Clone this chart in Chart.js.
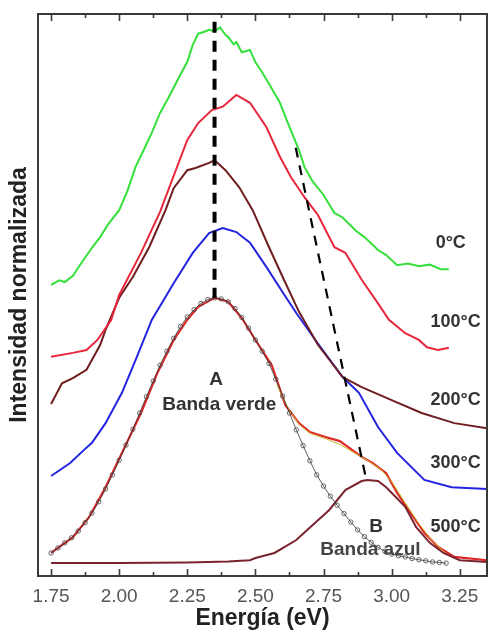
<!DOCTYPE html>
<html>
<head>
<meta charset="utf-8">
<script src="https://cdn.jsdelivr.net/npm/chart.js@4.4.0/dist/chart.umd.min.js"></script>
<style>
  html, body { margin: 0; padding: 0; background: #fff; }
</style>
</head>
<body>
<canvas id="plChart" width="488" height="632"></canvas>
<script>
// energy axis ticks (eV)
const tickValues = [1.75, 2.00, 2.25, 2.50, 2.75, 3.00, 3.25];
const minorTicks = [1.875, 2.125, 2.375, 2.625, 2.875, 3.125];

// 0ºC spectrum
const e0 = [1.75,1.78,1.80,1.83,1.86,1.90,1.93,1.96,2.00,2.03,2.06,2.09,2.12,2.15,2.18,2.22,2.25,2.27,2.29,2.31,2.33,2.35,2.37,2.39,2.40,2.42,2.43,2.45,2.48,2.50,2.52,2.55,2.59,2.62,2.66,2.68,2.71,2.75,2.79,2.82,2.84,2.87,2.90,2.95,2.98,3.02,3.06,3.10,3.14,3.18,3.21];
const i0 = [51.8,52.6,52.3,53.4,55.6,58.4,60.3,62.6,65.1,68.5,72.8,75.8,78.9,82.4,85.0,88.8,91.5,94.5,96.5,96.8,97.2,96.9,97.6,96.3,95.9,94.6,95.0,93.2,93.6,91.4,90.0,87.6,84.2,80.5,75.8,72.8,70.2,67.8,64.6,63.8,62.8,61.4,60.3,58.0,57.1,55.3,55.6,55.1,55.4,54.6,54.6];

// 100ºC spectrum
const e1 = [1.75,1.83,1.88,1.92,1.97,2.00,2.08,2.15,2.25,2.29,2.34,2.38,2.43,2.48,2.54,2.59,2.63,2.68,2.73,2.79,2.83,2.89,2.95,2.99,3.05,3.10,3.13,3.17,3.21];
const i1 = [39.0,39.7,40.2,42.0,45.5,50.0,57.5,64.8,77.6,80.6,82.9,83.5,85.6,84.2,79.9,74.6,71.0,67.4,64.2,58.5,57.5,52.7,48.5,45.6,43.2,42.0,40.7,40.2,40.6];

// 200ºC spectrum
const e2 = [1.75,1.79,1.83,1.88,1.93,1.95,2.00,2.05,2.11,2.17,2.20,2.25,2.28,2.33,2.35,2.39,2.44,2.49,2.55,2.60,2.66,2.73,2.82,2.89,3.00,3.11,3.23,3.35];
const i2 = [30.6,34.3,35.2,36.7,41.1,43.8,49.5,53.2,58.5,65.1,69.0,72.2,72.6,73.5,74.0,72.2,69.2,65.1,58.5,53.2,47.0,41.1,35.4,33.6,31.3,29.0,27.2,26.3];

// 300ºC spectrum
const e3 = [1.75,1.82,1.87,1.90,1.95,2.01,2.06,2.12,2.20,2.27,2.33,2.38,2.43,2.48,2.54,2.60,2.65,2.72,2.82,2.88,2.95,3.02,3.12,3.22,3.35];
const i3 = [17.8,20.1,22.4,23.7,27.2,32.6,38.4,45.6,52.1,57.5,61.0,61.9,61.2,59.3,55.0,50.5,46.8,42.0,35.4,32.6,26.5,21.9,17.1,15.8,15.5];

// 500ºC spectrum (measured)
const e5 = [1.75,1.83,1.89,1.95,2.01,2.08,2.14,2.20,2.25,2.29,2.35,2.40,2.45,2.50,2.56,2.61,2.66,2.70,2.76,2.81,2.89,2.93,2.98,3.02,3.07,3.12,3.17,3.23,3.35];
const i5 = [4.1,6.9,10.5,15.8,21.9,29.0,36.1,42.0,45.6,47.9,49.5,48.8,45.9,42.0,37.5,30.4,27.2,25.6,24.7,24.0,21.2,20.1,18.3,14.8,11.2,7.7,5.2,3.4,2.8];

// 500ºC fit total
const eF = [2.58,2.62,2.66,2.70,2.76,2.81,2.86,2.91,2.96,3.00,3.05,3.10,3.15,3.20];
const iF = [34.0,29.8,27.0,25.4,24.4,23.4,22.0,20.6,19.0,16.8,13.0,9.3,6.2,4.0];

// Band A (green) gaussian component
const eA = [1.750,1.775,1.800,1.825,1.850,1.875,1.900,1.925,1.950,1.975,2.000,2.025,2.050,2.075,2.100,2.125,2.150,2.175,2.200,2.225,2.250,2.275,2.300,2.325,2.350,2.375,2.400,2.425,2.450,2.475,2.500,2.525,2.550,2.575,2.600,2.625,2.650,2.675,2.700,2.725,2.750,2.775,2.800,2.825,2.850,2.875,2.900,2.925,2.950,2.975,3.000,3.025,3.050,3.075,3.100,3.125,3.150,3.175,3.200];
const iA = [4.1,5.0,5.9,6.8,8.0,9.5,11.2,13.2,15.5,18.0,20.6,23.3,26.1,29.0,31.9,34.7,37.5,40.0,42.3,44.4,46.1,47.4,48.5,49.2,49.5,49.3,48.8,47.6,46.0,44.1,42.0,40.0,37.8,35.0,32.0,29.0,26.0,23.2,20.5,18.0,16.0,14.2,12.6,11.1,9.6,8.2,7.0,6.0,5.1,4.4,3.9,3.6,3.4,3.1,2.9,2.7,2.5,2.4,2.3];

// Band B (blue) gaussian component
const eB = [1.75,2.00,2.25,2.40,2.48,2.50,2.57,2.65,2.69,2.77,2.83,2.89,2.91,2.95,2.98,3.05,3.09,3.14,3.19,3.25,3.35];
const iB = [2.3,2.3,2.4,2.6,2.8,3.2,4.1,6.4,8.2,11.7,15.3,16.9,17.1,16.9,15.8,12.3,8.7,5.9,4.1,2.8,2.5];

// peak position guides
const guideAx = [2.35, 2.35];
const guideAy = [98.6, 49.5];
const guideBx = [2.648, 2.907];
const guideBy = [76.2, 17.1];

const pts = (xs, ys) => xs.map((x, i) => ({ x: x, y: ys[i] }));

const line = (label, xs, ys, color, width, order, extra) => Object.assign({
  label: label,
  data: pts(xs, ys),
  borderColor: color,
  backgroundColor: color,
  borderWidth: width,
  pointRadius: 0,
  tension: 0,
  fill: false,
  order: order
}, extra || {});

const labelsPlugin = {
  id: 'plLabels',
  afterDatasetsDraw(chart) {
    const { ctx, chartArea: a, scales: { x, y } } = chart;
    ctx.save();
    // frame
    ctx.strokeStyle = '#3a3a3a';
    ctx.lineWidth = 2;
    ctx.strokeRect(a.left, a.top, a.right - a.left, a.bottom - a.top);
    // inward ticks top and bottom
    ctx.lineWidth = 1.6;
    const tick = (v, len) => {
      const px = Math.round(x.getPixelForValue(v)) + 0.5;
      ctx.beginPath();
      ctx.moveTo(px, a.bottom); ctx.lineTo(px, a.bottom - len);
      ctx.moveTo(px, a.top); ctx.lineTo(px, a.top + len);
      ctx.stroke();
    };
    tickValues.forEach(v => tick(v, 7));
    minorTicks.forEach(v => tick(v, 4));
    // annotations
    ctx.fillStyle = '#333';
    ctx.textAlign = 'center';
    ctx.textBaseline = 'middle';
    ctx.font = 'bold 18px "Liberation Sans", Arial, sans-serif';
    const txt = (s, ex, iy) => ctx.fillText(s, x.getPixelForValue(ex), y.getPixelForValue(iy));
    txt('0°C', 3.217, 59.3);
    txt('100°C', 3.235, 45.2);
    txt('200°C', 3.235, 31.3);
    txt('300°C', 3.235, 20.1);
    txt('500°C', 3.235, 8.7);
    ctx.font = 'bold 19px "Liberation Sans", Arial, sans-serif';
    txt('A', 2.356, 34.9);
    txt('Banda verde', 2.367, 30.4);
    txt('B', 2.943, 8.7);
    ctx.fillStyle = '#444';
    txt('Banda azul', 2.922, 4.6);
    ctx.restore();
  }
};

new Chart(document.getElementById('plChart'), {
  type: 'line',
  data: {
    datasets: [
      line('0°C', e0, i0, '#35e03a', 2, 5),
      line('100°C', e1, i1, '#e8263c', 2, 5),
      line('200°C', e2, i2, '#6e1e20', 2, 5),
      line('300°C', e3, i3, '#2424e0', 2, 5),
      line('500°C', e5, i5, '#e02828', 2.2, 8),
      line('ajuste', eF, iF, '#c9b52a', 1, 7),
      line('Banda B', eB, iB, '#7a2430', 2, 6),
      line('Banda A', eA, iA, '#333', 0.8, 4, {
        pointRadius: 2.2,
        pointStyle: 'circle',
        pointBorderColor: '#444',
        pointBackgroundColor: 'rgba(255,255,255,0)',
        pointBorderWidth: 0.8
      }),
      line('guia A', guideAx, guideAy, '#000', 4, 1, { borderDash: [11, 8] }),
      line('guia B', guideBx, guideBy, '#000', 2.2, 1, { borderDash: [10, 8] })
    ]
  },
  options: {
    responsive: false,
    animation: false,
    layout: { autoPadding: false, padding: { top: 14, right: 1, left: 0, bottom: 0 } },
    plugins: {
      legend: { display: false },
      tooltip: { enabled: false }
    },
    scales: {
      x: {
        type: 'linear',
        min: 1.702,
        max: 3.35,
        grid: { display: false },
        border: { display: false },
        afterBuildTicks: s => { s.ticks = tickValues.map(v => ({ value: v })); },
        afterFit: s => { s.height = 56; s.paddingLeft = 0; s.paddingRight = 0; },
        ticks: {
          padding: 1,
          maxRotation: 0,
          color: '#555',
          font: { family: '"Liberation Sans", Arial, sans-serif', size: 19 },
          callback: v => Number(v).toFixed(2)
        },
        title: {
          display: true,
          text: 'Energía (eV)',
          color: '#222',
          padding: { top: 0, bottom: 0 },
          font: { family: '"Liberation Sans", Arial, sans-serif', size: 23, weight: 'bold' }
        }
      },
      y: {
        type: 'linear',
        min: 0,
        max: 100,
        grid: { display: false },
        border: { display: false },
        ticks: { display: false },
        afterFit: s => { s.width = 38; s.paddingTop = 0; s.paddingBottom = 0; },
        title: {
          display: true,
          text: 'Intensidad normalizada',
          color: '#222',
          padding: { top: 6, bottom: 0 },
          font: { family: '"Liberation Sans", Arial, sans-serif', size: 23, weight: 'bold' }
        }
      }
    }
  },
  plugins: [labelsPlugin]
});
</script>
</body>
</html>
